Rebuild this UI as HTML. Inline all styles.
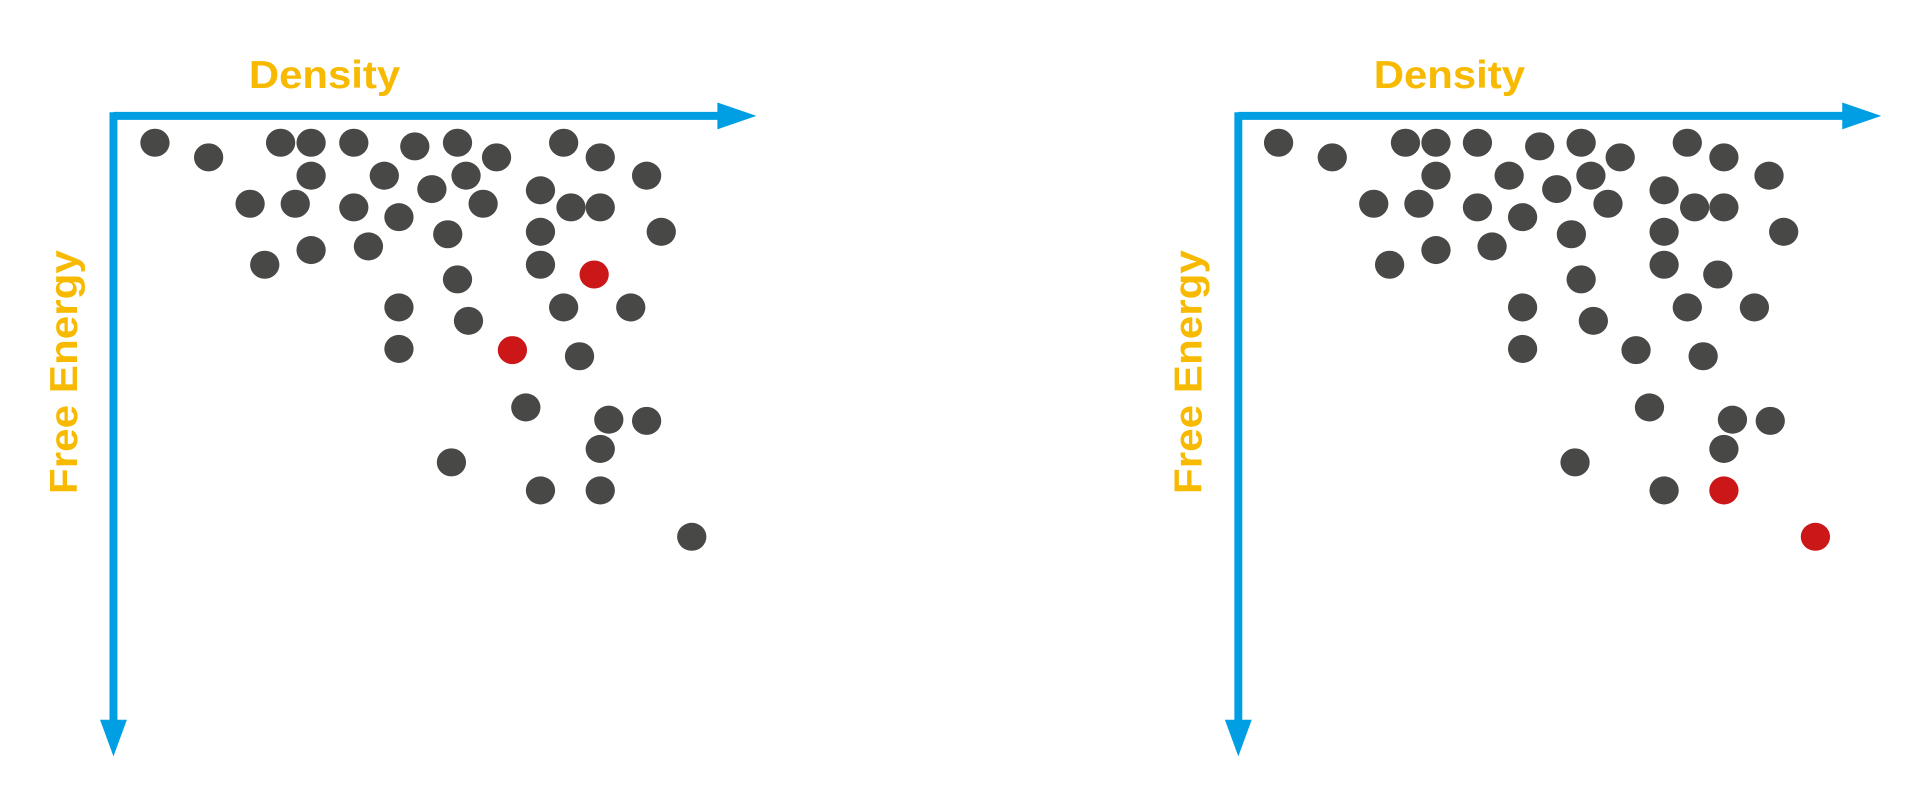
<!DOCTYPE html>
<html><head><meta charset="utf-8"><style>
html,body{margin:0;padding:0;background:#fff;width:1913px;height:797px;overflow:hidden}
svg{display:block}
text{font-family:"Liberation Sans",sans-serif;fill:#F7BA00;font-size:32px;font-weight:bold}
</style></head><body>
<svg width="1913" height="797" viewBox="0 0 1568 653.3" preserveAspectRatio="none">
<g id="axes">
<path d="M93 95 H590 M93 92 V592" stroke="#009FE3" stroke-width="6.5" fill="none"/>
<path d="M588 84 L620 95 L588 106 Z" fill="#009FE3"/>
<path d="M82 590 L93 620 L104 590 Z" fill="#009FE3"/>
<path d="M1015 95 H1512 M1015 92 V592" stroke="#009FE3" stroke-width="6.5" fill="none"/>
<path d="M1510 84 L1542 95 L1510 106 Z" fill="#009FE3"/>
<path d="M1004 590 L1015 620 L1026 590 Z" fill="#009FE3"/>
</g>
<text x="204" y="72" textLength="124" lengthAdjust="spacingAndGlyphs">Density</text>
<text x="1126" y="72" textLength="124" lengthAdjust="spacingAndGlyphs">Density</text>
<text transform="translate(63,405) rotate(-90)" textLength="200" lengthAdjust="spacingAndGlyphs">Free Energy</text>
<text transform="translate(985,405) rotate(-90)" textLength="200" lengthAdjust="spacingAndGlyphs">Free Energy</text>
<g fill="#484846">
<ellipse cx="127" cy="117" rx="12" ry="11.5"/><ellipse cx="171" cy="129" rx="12" ry="11.5"/><ellipse cx="230" cy="117" rx="12" ry="11.5"/><ellipse cx="255" cy="117" rx="12" ry="11.5"/><ellipse cx="290" cy="117" rx="12" ry="11.5"/><ellipse cx="340" cy="120" rx="12" ry="11.5"/><ellipse cx="375" cy="117" rx="12" ry="11.5"/><ellipse cx="407" cy="129" rx="12" ry="11.5"/><ellipse cx="462" cy="117" rx="12" ry="11.5"/><ellipse cx="492" cy="129" rx="12" ry="11.5"/><ellipse cx="530" cy="144" rx="12" ry="11.5"/>
<ellipse cx="255" cy="144" rx="12" ry="11.5"/><ellipse cx="315" cy="144" rx="12" ry="11.5"/><ellipse cx="354" cy="155" rx="12" ry="11.5"/><ellipse cx="382" cy="144" rx="12" ry="11.5"/><ellipse cx="443" cy="156" rx="12" ry="11.5"/>
<ellipse cx="205" cy="167" rx="12" ry="11.5"/><ellipse cx="242" cy="167" rx="12" ry="11.5"/><ellipse cx="290" cy="170" rx="12" ry="11.5"/><ellipse cx="327" cy="178" rx="12" ry="11.5"/><ellipse cx="396" cy="167" rx="12" ry="11.5"/><ellipse cx="468" cy="170" rx="12" ry="11.5"/><ellipse cx="492" cy="170" rx="12" ry="11.5"/>
<ellipse cx="367" cy="192" rx="12" ry="11.5"/><ellipse cx="443" cy="190" rx="12" ry="11.5"/><ellipse cx="542" cy="190" rx="12" ry="11.5"/>
<ellipse cx="217" cy="217" rx="12" ry="11.5"/><ellipse cx="255" cy="205" rx="12" ry="11.5"/><ellipse cx="302" cy="202" rx="12" ry="11.5"/><ellipse cx="375" cy="229" rx="12" ry="11.5"/><ellipse cx="443" cy="217" rx="12" ry="11.5"/>
<ellipse cx="327" cy="252" rx="12" ry="11.5"/><ellipse cx="384" cy="263" rx="12" ry="11.5"/><ellipse cx="462" cy="252" rx="12" ry="11.5"/><ellipse cx="517" cy="252" rx="12" ry="11.5"/>
<ellipse cx="327" cy="286" rx="12" ry="11.5"/><ellipse cx="475" cy="292" rx="12" ry="11.5"/>
<ellipse cx="431" cy="334" rx="12" ry="11.5"/><ellipse cx="499" cy="344" rx="12" ry="11.5"/><ellipse cx="530" cy="345" rx="12" ry="11.5"/><ellipse cx="492" cy="368" rx="12" ry="11.5"/>
<ellipse cx="370" cy="379" rx="12" ry="11.5"/><ellipse cx="443" cy="402" rx="12" ry="11.5"/><ellipse cx="492" cy="402" rx="12" ry="11.5"/><ellipse cx="567" cy="440" rx="12" ry="11.5"/>

<ellipse cx="1048" cy="117" rx="12" ry="11.5"/><ellipse cx="1092" cy="129" rx="12" ry="11.5"/><ellipse cx="1152" cy="117" rx="12" ry="11.5"/><ellipse cx="1177" cy="117" rx="12" ry="11.5"/><ellipse cx="1211" cy="117" rx="12" ry="11.5"/><ellipse cx="1262" cy="120" rx="12" ry="11.5"/><ellipse cx="1296" cy="117" rx="12" ry="11.5"/><ellipse cx="1328" cy="129" rx="12" ry="11.5"/><ellipse cx="1383" cy="117" rx="12" ry="11.5"/><ellipse cx="1413" cy="129" rx="12" ry="11.5"/><ellipse cx="1450" cy="144" rx="12" ry="11.5"/>
<ellipse cx="1177" cy="144" rx="12" ry="11.5"/><ellipse cx="1237" cy="144" rx="12" ry="11.5"/><ellipse cx="1276" cy="155" rx="12" ry="11.5"/><ellipse cx="1304" cy="144" rx="12" ry="11.5"/><ellipse cx="1364" cy="156" rx="12" ry="11.5"/>
<ellipse cx="1126" cy="167" rx="12" ry="11.5"/><ellipse cx="1163" cy="167" rx="12" ry="11.5"/><ellipse cx="1211" cy="170" rx="12" ry="11.5"/><ellipse cx="1248" cy="178" rx="12" ry="11.5"/><ellipse cx="1318" cy="167" rx="12" ry="11.5"/><ellipse cx="1389" cy="170" rx="12" ry="11.5"/><ellipse cx="1413" cy="170" rx="12" ry="11.5"/>
<ellipse cx="1288" cy="192" rx="12" ry="11.5"/><ellipse cx="1364" cy="190" rx="12" ry="11.5"/><ellipse cx="1462" cy="190" rx="12" ry="11.5"/>
<ellipse cx="1139" cy="217" rx="12" ry="11.5"/><ellipse cx="1177" cy="205" rx="12" ry="11.5"/><ellipse cx="1223" cy="202" rx="12" ry="11.5"/><ellipse cx="1296" cy="229" rx="12" ry="11.5"/><ellipse cx="1364" cy="217" rx="12" ry="11.5"/><ellipse cx="1408" cy="225" rx="12" ry="11.5"/>
<ellipse cx="1248" cy="252" rx="12" ry="11.5"/><ellipse cx="1306" cy="263" rx="12" ry="11.5"/><ellipse cx="1383" cy="252" rx="12" ry="11.5"/><ellipse cx="1438" cy="252" rx="12" ry="11.5"/>
<ellipse cx="1248" cy="286" rx="12" ry="11.5"/><ellipse cx="1341" cy="287" rx="12" ry="11.5"/><ellipse cx="1396" cy="292" rx="12" ry="11.5"/>
<ellipse cx="1352" cy="334" rx="12" ry="11.5"/><ellipse cx="1420" cy="344" rx="12" ry="11.5"/><ellipse cx="1451" cy="345" rx="12" ry="11.5"/><ellipse cx="1413" cy="368" rx="12" ry="11.5"/>
<ellipse cx="1291" cy="379" rx="12" ry="11.5"/><ellipse cx="1364" cy="402" rx="12" ry="11.5"/>
</g>
<g fill="#CC1719">
<ellipse cx="487" cy="225" rx="12" ry="11.5"/><ellipse cx="420" cy="287" rx="12" ry="11.5"/>
<ellipse cx="1413" cy="402" rx="12" ry="11.5"/><ellipse cx="1488" cy="440" rx="12" ry="11.5"/>
</g>
</svg>
</body></html>
